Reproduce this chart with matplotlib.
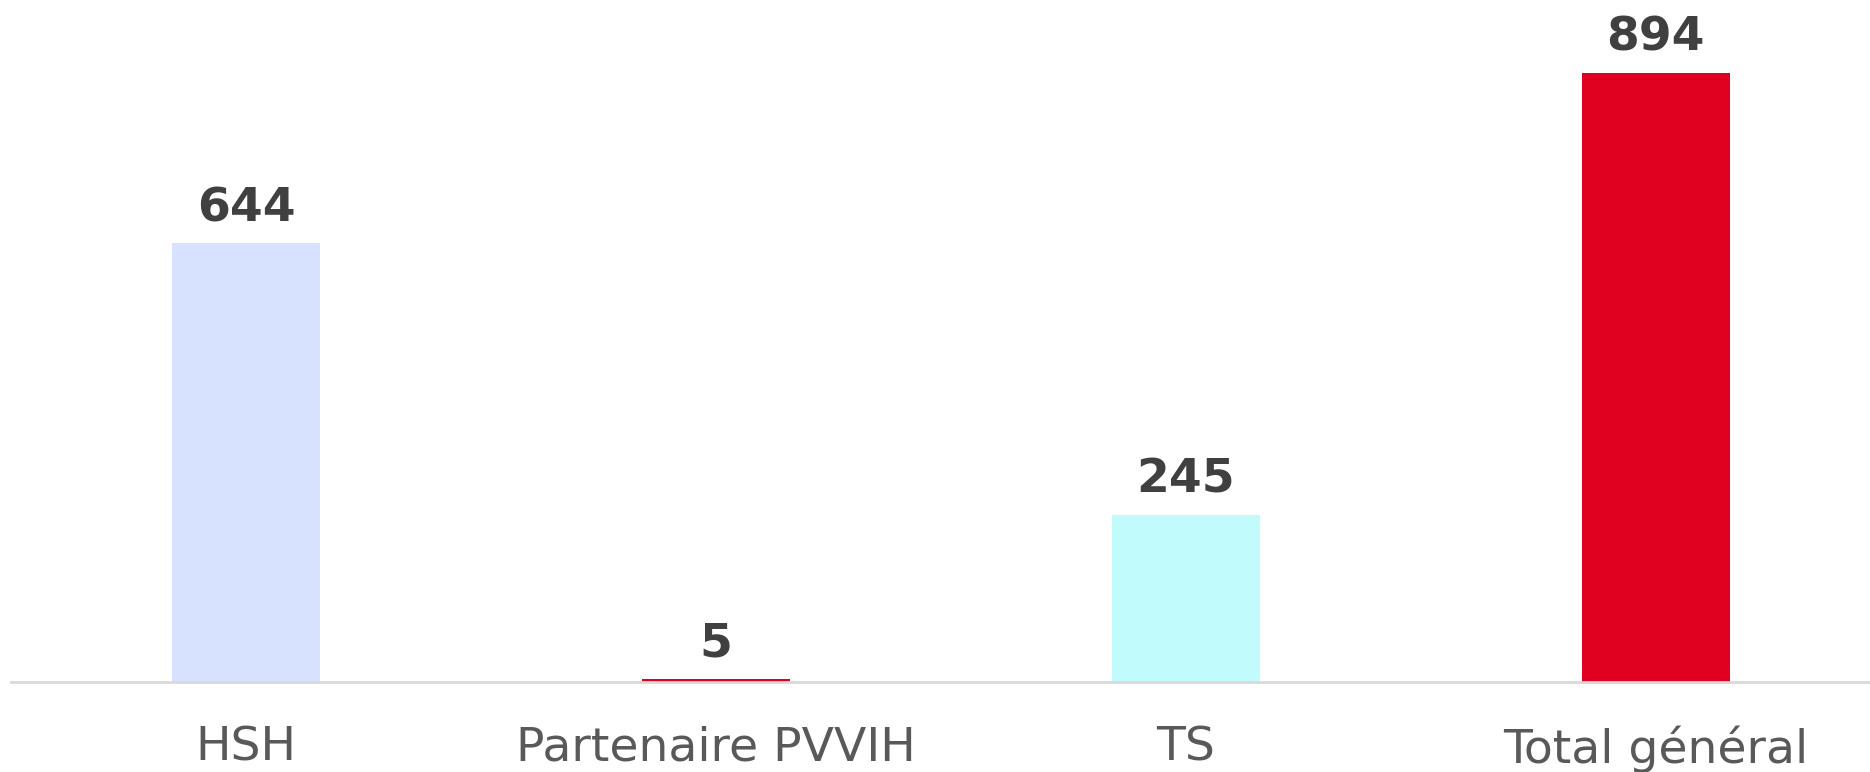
import matplotlib
matplotlib.use("Agg")
import matplotlib.pyplot as plt

categories = ["HSH", "Partenaire PVVIH", "TS", "Total général"]
values = [644, 5, 245, 894]
colors = ["#D6E2FE", "#E0001F", "#C2FBFC", "#E0001F"]

fig = plt.figure(figsize=(18.7, 7.72), dpi=100)
ax = fig.add_axes([11/1870, (772-682)/772, 1-11/1870, 682/772])
x = list(range(len(categories)))
ax.bar(x, values, width=0.315, color=colors, zorder=2)
ax.set_xlim(-0.5, 3.456)
ax.set_ylim(0, 1001)
for s in ["top", "right", "left"]:
    ax.spines[s].set_visible(False)
ax.spines["bottom"].set_color("#D9D9D9")
ax.spines["bottom"].set_linewidth(2)
ax.set_yticks([])
ax.set_xticks(x)
ax.set_xticklabels(categories, fontsize=34, color="#595959", family="DejaVu Sans")
ax.tick_params(axis="x", length=0, pad=31.5)
for xi, v in zip(x, values):
    ax.annotate(str(v), (xi, v), xytext=(0, 16), textcoords="offset points",
                ha="center", va="baseline", fontsize=34, fontweight="bold",
                color="#404040", family="DejaVu Sans")
fig.savefig("out.png", dpi=100)
